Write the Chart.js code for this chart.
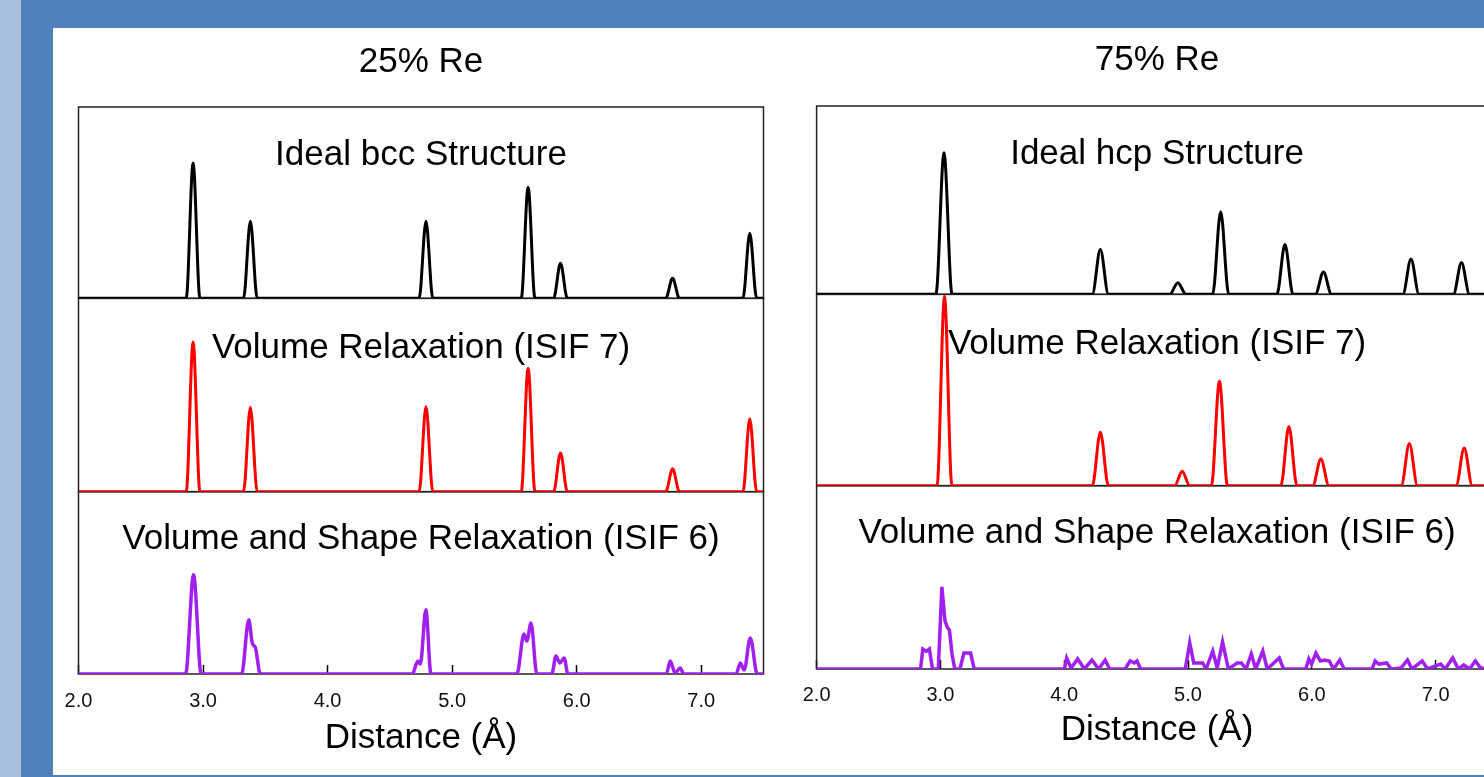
<!DOCTYPE html>
<html>
<head>
<meta charset="utf-8">
<title>Pair distribution: 25% Re vs 75% Re</title>
<script src="https://cdn.jsdelivr.net/npm/chart.js@4.4.1/dist/chart.umd.min.js"></script>
<style>
  html, body { margin: 0; padding: 0; }
  body { width: 1484px; height: 777px; overflow: hidden; position: relative; background: #4f81bd; }
  .strip { position: absolute; left: 0; top: 0; width: 21px; height: 777px; background: #a8c0dd; }
  .sheet { position: absolute; left: 53px; top: 28px; width: 1431px; height: 747px; background: #fff; }
  .box { position: absolute; top: 0; height: 777px; }
</style>
</head>
<body>
<div class="strip"></div>
<div class="sheet"></div>
<div class="box" style="left:0;width:842px"><canvas id="re25" width="842" height="777"></canvas></div>
<div class="box" style="left:776px;width:762px"><canvas id="re75" width="762" height="777"></canvas></div>
<script>
// distance (Å) and g(r) values, per panel
var panelLabels25 = ['Ideal bcc Structure', 'Volume Relaxation (ISIF 7)', 'Volume and Shape Relaxation (ISIF 6)'];
var panelLabels75 = ['Ideal hcp Structure', 'Volume Relaxation (ISIF 7)', 'Volume and Shape Relaxation (ISIF 6)'];
var xTicks = [2, 3, 4, 5, 6, 7];

// 25% Re
var re25IdealR = [2.0, 2.865, 2.92, 2.975, 3.325, 3.38, 3.435, 4.735, 4.79, 4.845, 5.555, 5.61, 5.665, 5.815, 5.87, 5.925, 6.715, 6.77, 6.825, 7.335, 7.39, 7.445, 7.5];
var re25IdealG = [0, 0, 7.07, 0, 0, 4.03, 0, 0, 4.03, 0, 0, 5.81, 0, 0, 1.83, 0, 0, 1.05, 0, 0, 3.40, 0, 0];
var re25Isif7R = [2.0, 2.865, 2.92, 2.975, 3.325, 3.38, 3.435, 4.735, 4.79, 4.845, 5.555, 5.61, 5.665, 5.815, 5.87, 5.925, 6.715, 6.77, 6.825, 7.335, 7.39, 7.445, 7.5];
var re25Isif7G = [0, 0, 7.74, 0, 0, 4.37, 0, 0, 4.40, 0, 0, 6.39, 0, 0, 2.00, 0, 0, 1.18, 0, 0, 3.77, 0, 0];
var re25Isif6R = [2.0, 2.86, 2.924, 2.985, 3.31, 3.367, 3.395, 3.42, 3.46, 4.68, 4.725, 4.745, 4.789, 4.83, 5.52, 5.577, 5.60, 5.633, 5.68, 5.80, 5.834, 5.865, 5.899, 5.93, 6.72, 6.751, 6.79, 6.831, 6.86, 7.28, 7.314, 7.345, 7.394, 7.45, 7.5];
var re25Isif6G = [0, 0, 5.44, 0, 0, 2.97, 1.70, 1.45, 0, 0, 0.71, 0.55, 3.52, 0, 0, 2.20, 1.81, 2.80, 0, 0, 0.99, 0.60, 0.88, 0, 0, 0.71, 0.05, 0.33, 0, 0, 0.60, 0.22, 1.98, 0, 0];

// 75% Re
var re75IdealR = [2.0, 2.964, 3.029, 3.094, 4.227, 4.292, 4.357, 4.853, 4.918, 4.983, 5.199, 5.264, 5.329, 5.718, 5.783, 5.848, 6.029, 6.094, 6.159, 6.736, 6.801, 6.866, 7.144, 7.209, 7.274, 7.5];
var re75IdealG = [0, 0, 7.52, 0, 0, 2.38, 0, 0, 0.62, 0, 0, 4.38, 0, 0, 2.64, 0, 0, 1.19, 0, 0, 1.88, 0, 0, 1.69, 0, 0];
var re75Isif7R = [2.0, 2.973, 3.033, 3.093, 4.227, 4.292, 4.357, 4.893, 4.953, 5.013, 5.189, 5.254, 5.319, 5.750, 5.815, 5.880, 6.008, 6.073, 6.138, 6.723, 6.788, 6.853, 7.166, 7.231, 7.296, 7.5];
var re75Isif7G = [0, 0, 9.9, 0, 0, 2.79, 0, 0, 0.75, 0, 0, 5.46, 0, 0, 3.09, 0, 0, 1.40, 0, 0, 2.21, 0, 0, 1.97, 0, 0];
var re75Isif6R = [2.0, 2.84, 2.858, 2.886, 2.911, 2.936, 2.983, 3.012, 3.037, 3.058, 3.073, 3.094, 3.116, 3.158, 3.19, 3.244, 3.273,
  4.002, 4.020, 4.056, 4.109, 4.163, 4.224, 4.278, 4.331, 4.367, 4.492, 4.532, 4.567, 4.588, 4.617,
  4.978, 5.014, 5.046, 5.075, 5.118, 5.146, 5.200, 5.236, 5.279, 5.326, 5.397, 5.432, 5.469, 5.511, 5.547, 5.604, 5.640, 5.737, 5.772,
  5.951, 5.976, 5.998, 6.033, 6.069, 6.104, 6.141, 6.176, 6.226, 6.262,
  6.487, 6.512, 6.541, 6.605, 6.641, 6.720, 6.773, 6.809, 6.892, 6.935,
  7.041, 7.077, 7.138, 7.184, 7.228, 7.274, 7.321, 7.364, 7.5];
var re75Isif6G = [0, 0, 1.09, 0.96, 1.09, 0, 0, 4.48, 2.62, 2.24, 2.13, 0.82, 0, 0, 0.87, 0.87, 0,
  0, 0.60, 0.05, 0.55, 0, 0.49, 0, 0.49, 0, 0, 0.44, 0.33, 0.44, 0,
  0, 1.42, 0.33, 0.33, 0.33, 0, 0.98, 0.05, 1.48, 0, 0.33, 0.33, 0, 0.82, 0, 0.98, 0, 0.60, 0,
  0, 0.55, 0.27, 0.87, 0.44, 0.49, 0.44, 0, 0.49, 0,
  0, 0.44, 0.27, 0.33, 0, 0.05, 0.49, 0, 0.44, 0,
  0.27, 0, 0.60, 0, 0.22, 0, 0.44, 0.05, 0];

var FONT = '"Liberation Sans", Arial, Helvetica, sans-serif';

function points(r, g) {
    return r.map(function (x, i) { return { x: x, y: g[i] }; });
}

// frames around each stacked panel + the panel captions
var panelDecor = {
    id: 'panelDecor',
    beforeDatasetsDraw: function (chart, args, opts) {
        var ctx = chart.ctx, area = chart.chartArea;
        ctx.save();
        ctx.strokeStyle = '#222';
        ctx.lineWidth = 1.5;
        opts.axes.forEach(function (id) {
            var s = chart.scales[id];
            ctx.strokeRect(area.left, s.top, area.right - area.left, s.bottom - s.top);
        });
        ctx.restore();
    },
    afterDatasetsDraw: function (chart, args, opts) {
        var ctx = chart.ctx, area = chart.chartArea;
        ctx.save();
        ctx.fillStyle = '#000';
        ctx.font = '35px ' + FONT;
        ctx.textAlign = 'center';
        ctx.textBaseline = 'middle';
        opts.axes.forEach(function (id, i) {
            var s = chart.scales[id];
            ctx.fillText(opts.labels[i], (area.left + area.right) / 2, s.top + opts.offsets[i]);
        });
        ctx.restore();
    }
};

function makeChart(id, cfg) {
    var ctx = document.getElementById(id).getContext('2d');
    return new Chart(ctx, {
        type: 'line',
        data: {
            datasets: [
                { data: points(cfg.ideal[0], cfg.ideal[1]), yAxisID: 'ideal', borderColor: '#000', borderWidth: 3, cubicInterpolationMode: 'monotone' },
                { data: points(cfg.isif7[0], cfg.isif7[1]), yAxisID: 'isif7', borderColor: '#ff0000', borderWidth: 3, cubicInterpolationMode: 'monotone' },
                { data: points(cfg.isif6[0], cfg.isif6[1]), yAxisID: 'isif6', borderColor: '#a020f0', borderWidth: 3.5,
                  cubicInterpolationMode: cfg.jagged ? 'default' : 'monotone', tension: 0 }
            ]
        },
        options: {
            responsive: false,
            animation: false,
            events: [],
            elements: { point: { radius: 0 }, line: { fill: false } },
            layout: { padding: cfg.padding },
            plugins: {
                legend: { display: false },
                tooltip: { enabled: false },
                title: {
                    display: true,
                    text: cfg.title,
                    color: '#000',
                    font: { family: FONT, size: 35, weight: 'normal' },
                    padding: cfg.titlePad
                },
                panelDecor: { axes: ['ideal', 'isif7', 'isif6'], labels: cfg.labels, offsets: [48, 50, 47.5] }
            },
            scales: {
                x: {
                    type: 'linear',
                    min: 2,
                    max: 7.5,
                    afterBuildTicks: function (axis) {
                        axis.ticks = xTicks.map(function (v) { return { value: v }; });
                    },
                    ticks: {
                        color: '#111',
                        padding: cfg.tickPad,
                        maxRotation: 0,
                        font: { family: FONT, size: 20 },
                        callback: function (v) { return v.toFixed(1); }
                    },
                    grid: { drawOnChartArea: false, drawTicks: true, tickLength: -9, tickColor: '#000', tickWidth: 1.5 },
                    border: { display: false },
                    title: {
                        display: true,
                        text: 'Distance (Å)',
                        color: '#000',
                        font: { family: FONT, size: 35 },
                        padding: { top: cfg.axisTitleTop, bottom: 0 }
                    }
                },
                // later scales are stacked on top
                isif6: { type: 'linear', position: 'left', display: false, min: 0, max: 10, stack: 'rdf', stackWeight: cfg.weights[2] },
                isif7: { type: 'linear', position: 'left', display: false, min: 0, max: 10, stack: 'rdf', stackWeight: cfg.weights[1] },
                ideal: { type: 'linear', position: 'left', display: false, min: 0, max: 10, stack: 'rdf', stackWeight: cfg.weights[0] }
            }
        },
        plugins: [panelDecor]
    });
}

makeChart('re25', {
    title: '25% Re',
    labels: panelLabels25,
    ideal: [re25IdealR, re25IdealG],
    isif7: [re25Isif7R, re25Isif7G],
    isif6: [re25Isif6R, re25Isif6G],
    jagged: false,
    weights: [191, 193, 182],
    padding: { left: 78.5, right: 78.5, top: 30, bottom: 18 },
    titlePad: { top: 11, bottom: 24 },
    tickPad: 24.5,
    axisTitleTop: -21
});

makeChart('re75', {
    title: '75% Re',
    labels: panelLabels75,
    ideal: [re75IdealR, re75IdealG],
    isif7: [re75Isif7R, re75Isif7G],
    isif6: [re75Isif6R, re75Isif6G],
    jagged: true,
    weights: [188, 191, 183],
    padding: { left: 40.6, right: 40.5, top: 28, bottom: 25.5 },
    titlePad: { top: 11, bottom: 25 },
    tickPad: 23,
    axisTitleTop: -20.5
});
</script>
</body>
</html>
